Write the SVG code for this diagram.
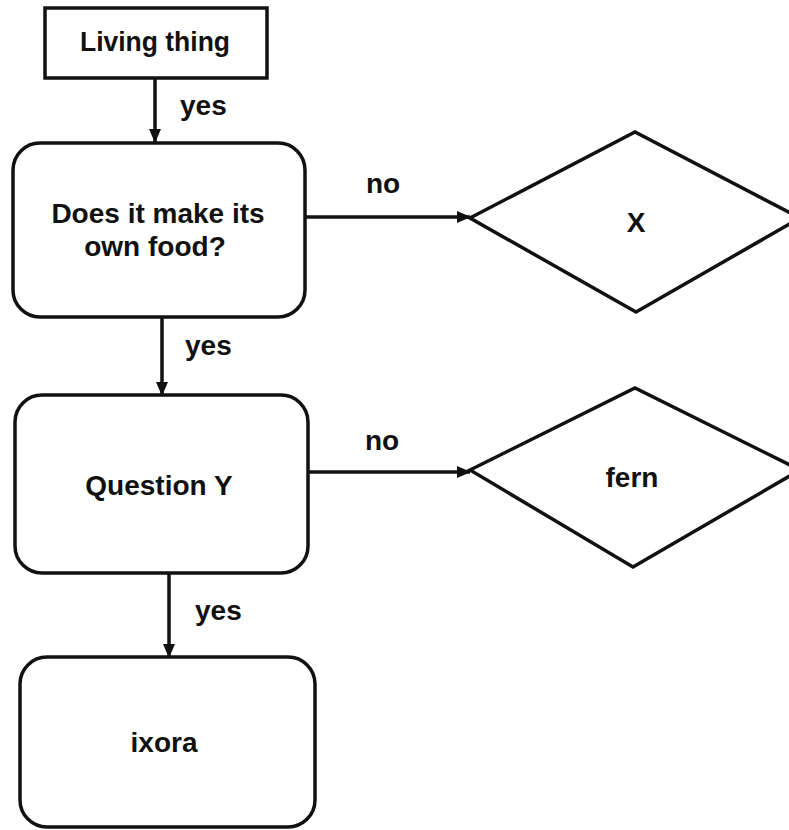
<svg xmlns="http://www.w3.org/2000/svg" width="789" height="830" viewBox="0 0 789 830">
<style>
.shape{fill:#fff;stroke:#111;stroke-width:3.5}
.conn{stroke:#111;stroke-width:3.5;fill:none}
text{font-family:"Liberation Sans",Arial,sans-serif;font-weight:bold;font-size:28px;fill:#111}
.c{text-anchor:middle}
</style>
<defs>
<marker id="ah" markerUnits="userSpaceOnUse" markerWidth="14" markerHeight="14" viewBox="0 0 14 14" refX="13" refY="7" orient="auto">
<path d="M0,1 L14,7 L0,13 Z" fill="#111"/>
</marker>
</defs>
<rect width="789" height="830" fill="#fff"/>
<g id="connectors">
<line class="conn" x1="155" y1="78" x2="155" y2="142" marker-end="url(#ah)"/>
<text x="180" y="115">yes</text>
<line class="conn" x1="305" y1="217" x2="470" y2="217" marker-end="url(#ah)"/>
<text x="366" y="193">no</text>
<line class="conn" x1="162" y1="317" x2="162" y2="395" marker-end="url(#ah)"/>
<text x="185" y="355">yes</text>
<line class="conn" x1="308" y1="472" x2="470" y2="472" marker-end="url(#ah)"/>
<text x="365" y="450">no</text>
<line class="conn" x1="169" y1="573" x2="169" y2="657" marker-end="url(#ah)"/>
<text x="195" y="620">yes</text>
</g>
<g id="living">
<rect class="shape" x="45" y="8" width="222" height="70"/>
<text class="c" x="155" y="51" textLength="150" lengthAdjust="spacingAndGlyphs">Living thing</text>
</g>
<g id="food">
<rect class="shape" x="13" y="143" width="292" height="174" rx="27"/>
<text class="c" x="158" y="223">Does it make its</text>
<text class="c" x="155" y="256">own food?</text>
</g>
<g id="x">
<polygon class="shape" points="470,218 635,132 800,218 636,312"/>
<text class="c" x="636" y="232">X</text>
</g>
<g id="questiony">
<rect class="shape" x="15" y="395" width="293" height="178" rx="27"/>
<text class="c" x="159" y="495">Question Y</text>
</g>
<g id="fern">
<polygon class="shape" points="470,470 635,388 800,470 633,567"/>
<text class="c" x="632" y="487">fern</text>
</g>
<g id="ixora">
<rect class="shape" x="20" y="657" width="295" height="170" rx="27"/>
<text class="c" x="164" y="752">ixora</text>
</g>
</svg>
